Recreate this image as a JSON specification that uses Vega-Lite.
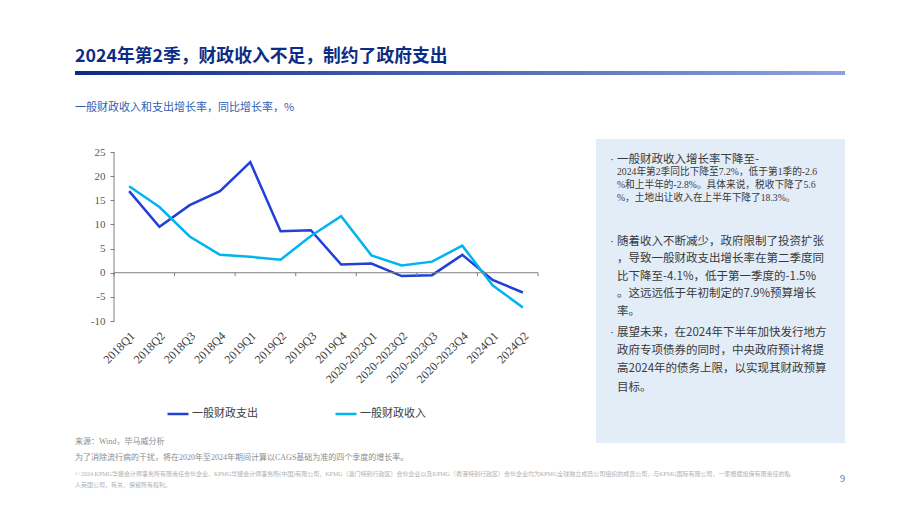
{
  "$schema": "https://vega.github.io/schema/vega-lite/v6.json",
  "background": "#ffffff",
  "padding": {"left": 75, "top": 48, "right": 10, "bottom": 10},
  "config": {
    "view": {"stroke": null},
    "font": "Noto Sans CJK SC",
    "text": {"font": "Noto Sans CJK SC"}
  },
  "title": {
    "text": "2024年第2季，财政收入不足，制约了政府支出",
    "anchor": "start",
    "fontSize": 17.8,
    "fontWeight": "bold",
    "color": "#0c2d86",
    "font": "Noto Sans CJK SC",
    "offset": 5
  },
  "spacing": 18,
  "vconcat": [
    {
      "width": 770,
      "height": 4,
      "data": {"values": [{}]},
      "mark": {
        "type": "rect",
        "fill": {
          "gradient": "linear",
          "x1": 0, "y1": 0, "x2": 1, "y2": 0,
          "stops": [
            {"offset": 0, "color": "#0a2b8a"},
            {"offset": 1, "color": "#8da2de"}
          ]
        }
      },
      "encoding": {
        "x": {"datum": 0, "type": "quantitative", "scale": {"domain": [0, 1]}, "axis": null},
        "x2": {"datum": 1},
        "y": {"datum": 0, "type": "quantitative", "scale": {"domain": [0, 1]}, "axis": null},
        "y2": {"datum": 1}
      }
    },
    {
      "columns": 4,
      "bounds": "flush",
      "spacing": {"row": 26, "column": 0},
      "concat": [
        {
          "width": 39,
          "height": 20,
          "view": {"fill": "#ffffff", "stroke": null},
          "data": {"values": [{"t": "一般财政收入和支出增长率，同比增长率，%"}]},
          "mark": {"type": "text", "align": "left", "baseline": "bottom", "fontSize": 11, "color": "#2f5fb3"},
          "encoding": {
            "text": {"field": "t", "type": "nominal"},
            "x": {"datum": 0, "type": "quantitative", "scale": {"domain": [0, 1]}, "axis": null},
            "y": {"datum": 0, "type": "quantitative", "scale": {"domain": [0, 1]}, "axis": null}
          }
        },
        {"width": 424, "height": 20, "data": {"values": []}, "mark": "point"},
        {"width": 58, "height": 20, "data": {"values": []}, "mark": "point"},
        {"width": 249, "height": 20, "data": {"values": []}, "mark": "point"},
        {
          "width": 39,
          "height": 304,
          "data": {
            "values": [
              {"t": ["来源：Wind，毕马威分析", "为了消除流行病的干扰，将在2020年至2024年期间计算以CAGS基础为准的四个季度的增长率。"]}
            ]
          },
          "mark": {
            "type": "text",
            "align": "left",
            "baseline": "top",
            "dy": -5,
            "fontSize": 8,
            "lineHeight": 15.5,
            "color": "#8c8c8c",
            "font": "Liberation Serif, Noto Sans CJK SC"
          },
          "encoding": {
            "text": {"field": "t", "type": "nominal"},
            "x": {"datum": 0, "type": "quantitative", "scale": {"domain": [0, 1]}, "axis": null},
            "y": {"datum": 0, "type": "quantitative", "scale": {"domain": [0, 1]}, "axis": null}
          }
        },
        {
          "width": 424,
          "height": 182,
          "data": {
            "values": [
              {"q": "2018Q1", "series": "一般财政支出", "value": 16.9},
              {"q": "2018Q2", "series": "一般财政支出", "value": 9.5},
              {"q": "2018Q3", "series": "一般财政支出", "value": 14.0},
              {"q": "2018Q4", "series": "一般财政支出", "value": 16.9},
              {"q": "2019Q1", "series": "一般财政支出", "value": 22.9},
              {"q": "2019Q2", "series": "一般财政支出", "value": 8.6},
              {"q": "2019Q3", "series": "一般财政支出", "value": 8.8},
              {"q": "2019Q4", "series": "一般财政支出", "value": 1.7},
              {"q": "2020-2023Q1", "series": "一般财政支出", "value": 1.9},
              {"q": "2020-2023Q2", "series": "一般财政支出", "value": -0.7},
              {"q": "2020-2023Q3", "series": "一般财政支出", "value": -0.5},
              {"q": "2020-2023Q4", "series": "一般财政支出", "value": 3.7},
              {"q": "2024Q1", "series": "一般财政支出", "value": -1.5},
              {"q": "2024Q2", "series": "一般财政支出", "value": -4.1},
              {"q": "2018Q1", "series": "一般财政收入", "value": 17.9},
              {"q": "2018Q2", "series": "一般财政收入", "value": 13.6},
              {"q": "2018Q3", "series": "一般财政收入", "value": 7.5},
              {"q": "2018Q4", "series": "一般财政收入", "value": 3.7},
              {"q": "2019Q1", "series": "一般财政收入", "value": 3.3},
              {"q": "2019Q2", "series": "一般财政收入", "value": 2.7},
              {"q": "2019Q3", "series": "一般财政收入", "value": 7.6},
              {"q": "2019Q4", "series": "一般财政收入", "value": 11.7},
              {"q": "2020-2023Q1", "series": "一般财政收入", "value": 3.6},
              {"q": "2020-2023Q2", "series": "一般财政收入", "value": 1.5},
              {"q": "2020-2023Q3", "series": "一般财政收入", "value": 2.3},
              {"q": "2020-2023Q4", "series": "一般财政收入", "value": 5.6},
              {"q": "2024Q1", "series": "一般财政收入", "value": -2.6},
              {"q": "2024Q2", "series": "一般财政收入", "value": -7.2}
            ]
          },
          "layer": [
            {
              "mark": {"type": "line", "strokeWidth": 2.5},
              "encoding": {
                "x": {
                  "field": "q",
                  "type": "ordinal",
                  "sort": null,
                  "bandPosition": 0.5,
                  "title": null,
                  "scale": {
                    "type": "band",
                    "domain": ["2018Q1", "2018Q2", "2018Q3", "2018Q4", "2019Q1", "2019Q2", "2019Q3", "2019Q4", "2020-2023Q1", "2020-2023Q2", "2020-2023Q3", "2020-2023Q4", "2024Q1", "2024Q2"],
                    "paddingInner": 0,
                    "paddingOuter": 0
                  },
                  "axis": {
                    "domain": false,
                    "ticks": false,
                    "labelAngle": -45,
                    "labelAlign": "right",
                    "labelBaseline": "top",
                    "labelFont": "Liberation Serif",
                    "labelFontSize": 12,
                    "labelColor": "#404040",
                    "labelPadding": 9,
                    "labelOverlap": false
                  }
                },
                "y": {
                  "field": "value",
                  "type": "quantitative",
                  "title": null,
                  "scale": {"domain": [-10, 27.7], "nice": false, "zero": false},
                  "axis": {
                    "values": [-10, -5, 0, 5, 10, 15, 20, 25],
                    "tickCount": 8,
                    "grid": false,
                    "domain": false,
                    "tickColor": "#7f7f7f",
                    "tickSize": 4,
                    "labelFont": "Liberation Serif",
                    "labelFontSize": 11,
                    "labelColor": "#595959",
                    "labelPadding": 5,
                    "labelOverlap": false,
                    "labelExpr": "'' + datum.value"
                  }
                },
                "color": {
                  "field": "series",
                  "type": "nominal",
                  "scale": {
                    "domain": ["一般财政支出", "一般财政收入"],
                    "range": ["#2140d6", "#00b4f0"]
                  },
                  "legend": {
                    "orient": "none",
                    "legendX": 91,
                    "legendY": 331,
                    "direction": "horizontal",
                    "title": null,
                    "symbolType": "stroke",
                    "symbolStrokeWidth": 2.5,
                    "symbolSize": 441,
                    "labelFont": "Noto Sans CJK SC",
                    "labelFontSize": 11,
                    "labelColor": "#404040",
                    "labelOffset": 2,
                    "columnPadding": 72,
                    "padding": 0
                  }
                }
              }
            },
            {
              "data": {"values": [{}]},
              "mark": {"type": "rule", "color": "#7f7f7f", "strokeWidth": 1},
              "encoding": {
                "y": {
                  "datum": 0,
                  "type": "quantitative",
                  "title": null,
                  "axis": {
                    "values": [-10, -5, 0, 5, 10, 15, 20, 25],
                    "tickCount": 8,
                    "grid": false,
                    "domain": false,
                    "tickColor": "#7f7f7f",
                    "tickSize": 4,
                    "labelFont": "Liberation Serif",
                    "labelFontSize": 11,
                    "labelColor": "#595959",
                    "labelPadding": 5,
                    "labelOverlap": false,
                    "labelExpr": "'' + datum.value"
                  }
                }
              }
            },
            {
              "data": {"values": [{"q": "2018Q1"}]},
              "mark": {"type": "rule", "color": "#7f7f7f", "strokeWidth": 1},
              "encoding": {
                "x": {"field": "q", "type": "ordinal", "bandPosition": 0, "title": null, "scale": {"type": "band"}},
                "y": {
                  "datum": -10,
                  "type": "quantitative",
                  "title": null,
                  "axis": {
                    "values": [-10, -5, 0, 5, 10, 15, 20, 25],
                    "tickCount": 8,
                    "grid": false,
                    "domain": false,
                    "tickColor": "#7f7f7f",
                    "tickSize": 4,
                    "labelFont": "Liberation Serif",
                    "labelFontSize": 11,
                    "labelColor": "#595959",
                    "labelPadding": 5,
                    "labelOverlap": false,
                    "labelExpr": "'' + datum.value"
                  }
                },
                "y2": {"datum": 25}
              }
            },
            {
              "data": {
                "values": [
                  {"q": "2018Q1"}, {"q": "2018Q3"}, {"q": "2019Q1"}, {"q": "2019Q3"},
                  {"q": "2020-2023Q1"}, {"q": "2020-2023Q3"}, {"q": "2024Q1"}
                ]
              },
              "mark": {"type": "rule", "color": "#7f7f7f", "strokeWidth": 1},
              "encoding": {
                "x": {"field": "q", "type": "ordinal", "bandPosition": 0, "title": null, "scale": {"type": "band"}},
                "y": {
                  "datum": 0,
                  "type": "quantitative",
                  "title": null,
                  "axis": {
                    "values": [-10, -5, 0, 5, 10, 15, 20, 25],
                    "tickCount": 8,
                    "grid": false,
                    "domain": false,
                    "tickColor": "#7f7f7f",
                    "tickSize": 4,
                    "labelFont": "Liberation Serif",
                    "labelFontSize": 11,
                    "labelColor": "#595959",
                    "labelPadding": 5,
                    "labelOverlap": false,
                    "labelExpr": "'' + datum.value"
                  }
                },
                "y2": {"datum": -0.7}
              }
            },
            {
              "data": {"values": [{"q": "2024Q2"}]},
              "mark": {"type": "rule", "color": "#7f7f7f", "strokeWidth": 1},
              "encoding": {
                "x": {"field": "q", "type": "ordinal", "bandPosition": 1, "title": null, "scale": {"type": "band"}},
                "y": {
                  "datum": 0,
                  "type": "quantitative",
                  "title": null,
                  "axis": {
                    "values": [-10, -5, 0, 5, 10, 15, 20, 25],
                    "tickCount": 8,
                    "grid": false,
                    "domain": false,
                    "tickColor": "#7f7f7f",
                    "tickSize": 4,
                    "labelFont": "Liberation Serif",
                    "labelFontSize": 11,
                    "labelColor": "#595959",
                    "labelPadding": 5,
                    "labelOverlap": false,
                    "labelExpr": "'' + datum.value"
                  }
                },
                "y2": {"datum": -0.7}
              }
            }
          ]
        },
        {"width": 58, "height": 20, "data": {"values": []}, "mark": "point"},
        {
          "width": 249,
          "height": 304,
          "view": {"fill": "#e3edf8", "stroke": null},
          "encoding": {
            "x": {"datum": 0, "type": "quantitative", "scale": {"domain": [0, 1]}, "axis": null},
            "y": {"datum": 1, "type": "quantitative", "scale": {"domain": [0, 1]}, "axis": null}
          },
          "layer": [
            {
              "data": {"values": [{"t": "·"}]},
              "mark": {"type": "text", "align": "left", "baseline": "top", "dx": 14, "dy": 14.5, "fontSize": 11.5, "color": "#3a3a3a", "font": "Liberation Sans"},
              "encoding": {"text": {"field": "t", "type": "nominal"}}
            },
            {
              "data": {"values": [{"t": "一般财政收入增长率下降至-"}]},
              "mark": {"type": "text", "align": "left", "baseline": "top", "dx": 21, "dy": 14.5, "fontSize": 11.5, "color": "#3a3a3a"},
              "encoding": {"text": {"field": "t", "type": "nominal"}}
            },
            {
              "data": {
                "values": [
                  {"t": ["2024年第2季同比下降至7.2%，低于第1季的-2.6", "%和上半年的-2.8%。具体来说，税收下降了5.6", "%，土地出让收入在上半年下降了18.3%。"]}
                ]
              },
              "mark": {"type": "text", "align": "left", "baseline": "top", "dx": 21, "dy": 27.5, "fontSize": 9.7, "lineHeight": 13, "color": "#3a3a3a", "font": "Liberation Serif, Noto Sans CJK SC"},
              "encoding": {"text": {"field": "t", "type": "nominal"}}
            },
            {
              "data": {"values": [{"t": "·"}]},
              "mark": {"type": "text", "align": "left", "baseline": "top", "dx": 14, "dy": 97, "fontSize": 11.5, "color": "#3a3a3a", "font": "Liberation Sans"},
              "encoding": {"text": {"field": "t", "type": "nominal"}}
            },
            {
              "data": {
                "values": [
                  {"t": ["随着收入不断减少，政府限制了投资扩张", "，导致一般财政支出增长率在第二季度同", "比下降至-4.1%，低于第一季度的-1.5%", "。这远远低于年初制定的7.9%预算增长", "率。"]}
                ]
              },
              "mark": {"type": "text", "align": "left", "baseline": "top", "dx": 21, "dy": 97, "fontSize": 11.5, "lineHeight": 17.4, "color": "#3a3a3a"},
              "encoding": {"text": {"field": "t", "type": "nominal"}}
            },
            {
              "data": {"values": [{"t": "·"}]},
              "mark": {"type": "text", "align": "left", "baseline": "top", "dx": 14, "dy": 188, "fontSize": 11.5, "color": "#3a3a3a", "font": "Liberation Sans"},
              "encoding": {"text": {"field": "t", "type": "nominal"}}
            },
            {
              "data": {
                "values": [
                  {"t": ["展望未来，在2024年下半年加快发行地方", "政府专项债券的同时，中央政府预计将提", "高2024年的债务上限，以实现其财政预算", "目标。"]}
                ]
              },
              "mark": {"type": "text", "align": "left", "baseline": "top", "dx": 21, "dy": 188, "fontSize": 11.5, "lineHeight": 18.2, "color": "#3a3a3a"},
              "encoding": {"text": {"field": "t", "type": "nominal"}}
            }
          ]
        },
        {
          "width": 39,
          "height": 20,
          "data": {
            "values": [
              {"t": ["© 2024 KPMG华振会计师事务所有限责任合伙企业，KPMG华振会计师事务所(中国)有限公司，KPMG（澳门特别行政区）合伙企业以及KPMG（香港特别行政区）合伙企业均为KPMG全球独立成员公司组织的成员公司，与KPMG国际有限公司，一家根据担保有限责任的私", "人英国公司，有关，保留所有权利。"]}
            ]
          },
          "mark": {"type": "text", "align": "left", "baseline": "top", "dy": 2, "fontSize": 6, "lineHeight": 10.5, "color": "#b0b0b0", "font": "Liberation Serif, Noto Sans CJK SC"},
          "encoding": {
            "text": {"field": "t", "type": "nominal"},
            "x": {"datum": 0, "type": "quantitative", "scale": {"domain": [0, 1]}, "axis": null},
            "y": {"datum": 1, "type": "quantitative", "scale": {"domain": [0, 1]}, "axis": null}
          }
        },
        {"width": 424, "height": 20, "data": {"values": []}, "mark": "point"},
        {"width": 58, "height": 20, "data": {"values": []}, "mark": "point"},
        {
          "width": 249,
          "height": 20,
          "data": {"values": [{"t": "9"}]},
          "mark": {"type": "text", "align": "right", "baseline": "middle", "fontSize": 10, "color": "#5b6fb5", "font": "Liberation Serif"},
          "encoding": {
            "text": {"field": "t", "type": "nominal"},
            "x": {"datum": 1, "type": "quantitative", "scale": {"domain": [0, 1]}, "axis": null},
            "y": {"datum": 0.5, "type": "quantitative", "scale": {"domain": [0, 1]}, "axis": null}
          }
        }
      ]
    }
  ]
}
